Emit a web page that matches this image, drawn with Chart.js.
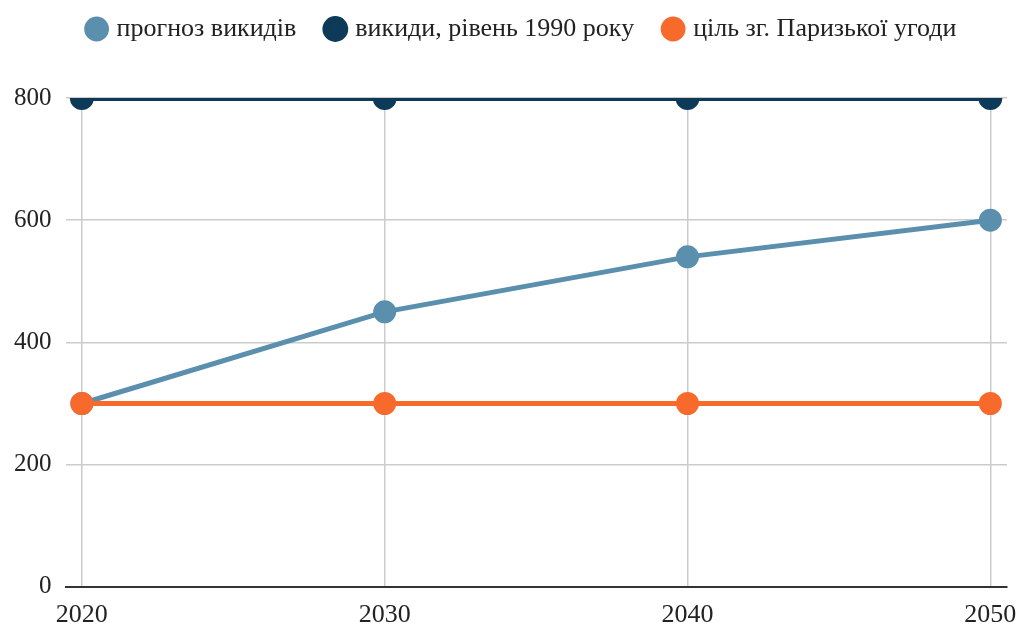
<!DOCTYPE html>
<html>
<head>
<meta charset="utf-8">
<script src="https://cdn.jsdelivr.net/npm/chart.js@4"></script>
<style>
  html, body { margin: 0; padding: 0; background: #fff; }
  #wrap { width: 1022px; height: 626px; }
</style>
</head>
<body>
<div id="wrap"><canvas id="chart" width="1022" height="626"></canvas></div>
<script>
// Data
const years = [2020, 2030, 2040, 2050];
const forecast = [300, 450, 540, 600];
const level1990 = [800, 800, 800, 800];
const parisTarget = [300, 300, 300, 300];
const yTicks = [0, 200, 400, 600, 800];

const seriesNames = ['прогноз викидів', 'викиди, рівень 1990 року', 'ціль зг. Паризької угоди'];
const seriesColors = ['#5a8fae', '#0c3a58', '#f76a2c'];

function toPoints(values) {
    return years.map((y, i) => ({ x: y, y: values[i] }));
}

const fontFamily = '"Liberation Serif", "Times New Roman", serif';

// extra space under the legend, and nudge it right
const legendSpacer = {
    id: 'legendSpacer',
    beforeInit(chart) {
        const origFit = chart.legend.fit;
        chart.legend.fit = function() {
            origFit.call(this);
            this.height += 46;
        };
    },
    afterLayout(chart) {
        chart.legend.left += 18;
        chart.legend.right += 18;
    }
};

new Chart(document.getElementById('chart'), {
    type: 'line',
    data: {
        datasets: [
            {
                label: seriesNames[0],
                data: toPoints(forecast),
                borderColor: seriesColors[0],
                backgroundColor: seriesColors[0],
                borderWidth: 5,
                pointRadius: 9,
                pointHoverRadius: 9,
                order: 2
            },
            {
                label: seriesNames[1],
                data: toPoints(level1990),
                borderColor: seriesColors[1],
                backgroundColor: seriesColors[1],
                borderWidth: 6,
                pointRadius: 9,
                pointHoverRadius: 9,
                clip: 0,
                order: 3
            },
            {
                label: seriesNames[2],
                data: toPoints(parisTarget),
                borderColor: seriesColors[2],
                backgroundColor: seriesColors[2],
                borderWidth: 5,
                pointRadius: 9,
                pointHoverRadius: 9,
                order: 1
            }
        ]
    },
    options: {
        responsive: false,
        animation: false,
        layout: { padding: { left: 0, right: 12, top: -16, bottom: -18 } },
        plugins: {
            legend: {
                position: 'top',
                labels: {
                    usePointStyle: true,
                    pointStyle: 'circle',
                    boxWidth: 14,
                    boxHeight: 14,
                    padding: 32,
                    color: '#222',
                    font: { family: fontFamily, size: 26 },
                    sort: (a, b) => a.datasetIndex - b.datasetIndex
                }
            },
            tooltip: { enabled: false }
        },
        scales: {
            x: {
                type: 'linear',
                min: 2019.46,
                max: 2050.55,
                afterBuildTicks: axis => { axis.ticks = years.map(v => ({ value: v })); },
                afterFit: axis => { axis.paddingLeft = 0; axis.paddingRight = 0; },
                ticks: {
                    color: '#222',
                    padding: 13,
                    maxRotation: 0,
                    font: { family: fontFamily, size: 26 },
                    callback: v => String(v)
                },
                grid: { color: '#cccccc', lineWidth: 1.5, drawTicks: false },
                border: { display: true, color: '#333', width: 2 }
            },
            y: {
                min: 0,
                max: 800,
                afterBuildTicks: axis => { axis.ticks = yTicks.map(v => ({ value: v })); },
                ticks: {
                    color: '#222',
                    padding: 14,
                    font: { family: fontFamily, size: 25 }
                },
                grid: { color: '#cccccc', lineWidth: 1.5, drawTicks: false },
                border: { display: false }
            }
        }
    },
    plugins: [legendSpacer]
});
</script>
</body>
</html>
